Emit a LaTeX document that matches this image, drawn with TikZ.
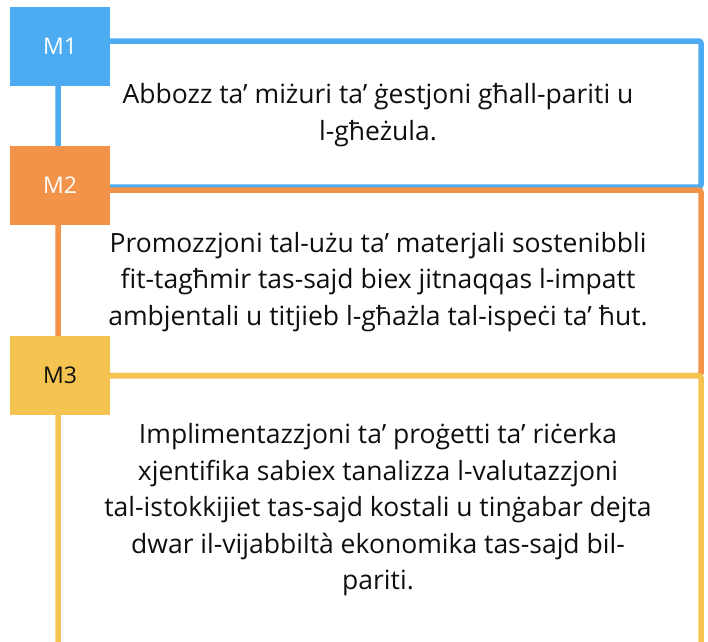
\documentclass[tikz,border=0pt]{standalone}
\usepackage{fontspec}
\setmainfont{Open Sans}
\definecolor{cblue}{RGB}{77,172,241}
\definecolor{corange}{RGB}{243,147,74}
\definecolor{cyellow}{RGB}{245,196,80}
\definecolor{ctext}{RGB}{15,15,15}
\begin{document}
\begin{tikzpicture}[x=1pt,y=-1pt,
  frame/.style={line width=5.5pt, rounded corners=2.5pt},
  lab/.style={minimum width=100pt, minimum height=79pt, inner sep=0pt, font=\fontsize{23}{27}\selectfont},
  body/.style={align=center, inner sep=0pt, font=\fontsize{26.5}{36.5}\selectfont, text=ctext}]
\useasboundingbox (0,0) rectangle (708,641);
\clip (0,0) rectangle (708,641);
\draw[frame, cblue] (58,41) rectangle (701,187);
\draw[frame, corange] (58,190) rectangle (701,375.5);
\draw[frame, cyellow] (58,375.5) rectangle (701,680);
\node[lab, fill=cblue, text=white] (m1) at (60,46.5) {M1};
\node[lab, fill=corange, text=white] (m2) at (60,185.5) {M2};
\node[lab, fill=cyellow, text=ctext] (m3) at (60,375.5) {M3};
\node[body] (t1) at (378,115) {Abbozz ta’ miżuri ta’ ġestjoni għall-pariti u\\l-għeżula.};
\node[body] (t2) at (378,282) {Promozzjoni tal-użu ta’ materjali sostenibbli\\fit-tagħmir tas-sajd biex jitnaqqas l-impatt\\ambjentali u titjieb l-għażla tal-ispeċi ta’ ħut.};
\node[body] (t3) at (378,510) {Implimentazzjoni ta’ proġetti ta’ riċerka\\xjentifika sabiex tanalizza l-valutazzjoni\\tal-istokkijiet tas-sajd kostali u tinġabar dejta\\dwar il-vijabbiltà ekonomika tas-sajd bil-\\pariti.};
\end{tikzpicture}
\end{document}
